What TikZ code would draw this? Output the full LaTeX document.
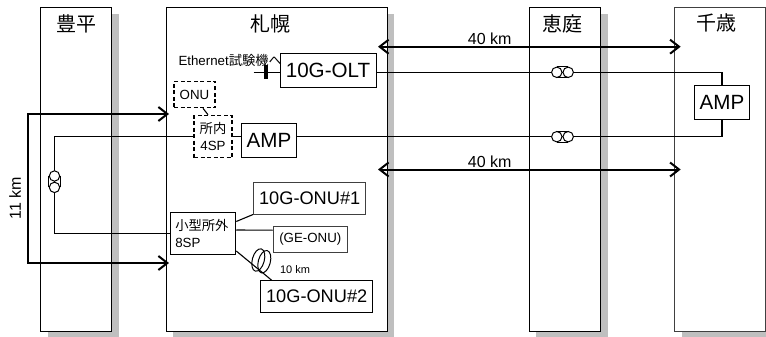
\documentclass[tikz,border=0pt]{standalone}
\usepackage{fontspec}
\setmainfont{Liberation Sans}
\newfontfamily\cjk{Noto Sans CJK JP}
\usetikzlibrary{arrows.meta}
\usetikzlibrary{positioning}
\usetikzlibrary{shadows}
\tikzset{>={Straight Barb[length=9pt,width=14pt]}}
\tikzset{
    site/.style={draw, fill=white, minimum height=323pt, inner sep=0pt,
        general shadow={fill=black!25, shadow xshift=7pt, shadow yshift=-6.5pt}},
    sitename/.style={inner sep=0pt, font=\fontsize{20}{24}\selectfont\cjk},
    bigbox/.style={draw, fill=white, inner sep=0pt, font=\fontsize{20.6}{24}\selectfont},
    onubox/.style={draw, fill=white, inner sep=0pt, minimum width=112.5pt, minimum height=31.5pt, font=\fontsize{18.2}{22}\selectfont},
    smallbox/.style={inner sep=0pt, font=\fontsize{13.3}{16.5}\selectfont},
    dashbox/.style={smallbox, draw, fill=white, dash pattern=on 4pt off 2.5pt, line width=1.6pt},
    fiber/.style={line width=1.1pt},
    bus/.style={line width=2pt},
    roll/.style={draw, circle, fill=white, inner sep=0pt, minimum size=10.4pt, line width=1pt},
    lengthlabel/.style={inner sep=0pt, font=\fontsize{16}{18}\selectfont},
}

\begin{document}
\begin{tikzpicture}[x=1pt, y=-1pt, line width=1pt]
        \useasboundingbox (0,0) rectangle (766,337);

        % sites
        \node [site, minimum width=71pt] (Toyohira) at (76,169.5) {};
        \node [site, minimum width=221pt] (Sapporo) at (276.5,169.5) {};
        \node [site, minimum width=71.5pt] (Eniwa) at (565,169.5) {};
        \node [site, minimum width=90.5pt, draw=black!75] (Chitose) at (720,169.5) {};
        \node [sitename, below=7pt of Toyohira.north] (ToyohiraName) {豊平};
        \node [sitename, below=7pt of Sapporo.north, xshift=-6.5pt] (SapporoName) {札幌};
        \node [sitename, below=7pt of Eniwa.north, xshift=-3pt] (EniwaName) {恵庭};
        \node [sitename, below=6pt of Chitose.north, xshift=-4pt] (ChitoseName) {千歳};

        % equipment
        \node [bigbox, minimum width=96pt, minimum height=34pt] (OLT) at (328,70.3) {10G-OLT};
        \node [bigbox, minimum width=55.5pt, minimum height=34pt] (LocalAMP) at (269,140) {AMP};
        \node [bigbox, minimum width=55pt, minimum height=34pt] (RemoteAMP) at (722,102.5) {AMP};
        \node [dashbox, minimum width=41pt, minimum height=26pt] (ONU) at (194.5,94.5) {ONU};
        \node [dashbox, minimum width=38pt, minimum height=42pt, align=center] (FourSP) at (213,136.5) {{\cjk 所内}\\4SP};
        \node [smallbox, draw, fill=white, inner xsep=5pt, minimum height=41.5pt, align=left, text width=55.5pt] (SmallSP) at (203,233.5) {{\cjk 小型所外}\\8SP};
        \node [onubox, draw=black!75] (OneONU) at (309.7,198.3) {10G-ONU\#1};
        \node [onubox] (TwoONU) at (316.7,296.5) {10G-ONU\#2};
        \node [smallbox, draw=black!75, fill=white, minimum width=74.5pt, minimum height=25.7pt] (GEONU) at (310.3,239.2) {(GE-ONU)};
        \node [smallbox, anchor=west] (Tester) at (178,60.7) {Ethernet{\cjk 試験機へ}};
        \coordinate [left=26pt of OLT, yshift=-2pt] (StubEnd);
        \coordinate (LeftTop) at (54.5,136.5);
        \coordinate (LeftBottom) at (54.5,233.5);

        % fibers
        \draw [fiber] (StubEnd)--([yshift=-2pt]OLT.west);
        \node [fill=black, inner sep=0pt, minimum width=4pt, minimum height=14pt, left=11pt of OLT, yshift=-2pt] (TesterBar) {};
        \draw [fiber] ([yshift=-2pt]OLT.east) -| (RemoteAMP.north);
        \draw [fiber] ([yshift=3.5pt]LocalAMP.east) -| (RemoteAMP.south);
        \draw [fiber] (FourSP.east)--([yshift=3.5pt]LocalAMP.west);
        \draw [fiber] (FourSP.west)--(LeftTop)--(LeftBottom)--(SmallSP.west);
        \draw [fiber] ([xshift=8.5pt]ONU.south)--([xshift=-5pt]FourSP.north);
        \draw [fiber] ([yshift=12pt]SmallSP.east)--(OneONU.south west);
        \draw [fiber] ([yshift=3.5pt]SmallSP.east)--([yshift=9pt]GEONU.west);
        \draw [fiber] ([yshift=-17.5pt]SmallSP.east)--([xshift=-45pt]TwoONU.north);

        % fiber rolls
        \node [roll] (UpperRollA) at (556.8,72.3) {};
        \node [roll, right=0pt of UpperRollA] (UpperRollB) {};
        \draw (UpperRollA.north)--(UpperRollB.north) (UpperRollA.south)--(UpperRollB.south);
        \node [roll] (LowerRollA) at (556.8,136.7) {};
        \node [roll, right=0pt of LowerRollA] (LowerRollB) {};
        \draw (LowerRollA.north)--(LowerRollB.north) (LowerRollA.south)--(LowerRollB.south);
        \node [roll] (LeftRollA) at (54.5,176) {};
        \node [roll, below=0pt of LeftRollA] (LeftRollB) {};
        \draw (LeftRollA.west)--(LeftRollB.west) (LeftRollA.east)--(LeftRollB.east);
        \draw [rotate around={-15:(258.3,260)}] (258.3,260) ellipse (6pt and 11.5pt);
        \draw [rotate around={-15:(264.3,261.7)}] (264.3,261.7) ellipse (6pt and 11.5pt);

        % distances
        \coordinate (SapporoUpper) at (378,46.7);
        \coordinate (ChitoseUpper) at (680.7,46.7);
        \coordinate (SapporoLower) at (378,169.5);
        \coordinate (ChitoseLower) at (680.7,169.5);
        \draw [<->, bus] (SapporoUpper)--(ChitoseUpper);
        \draw [<->, bus] (SapporoLower)--(ChitoseLower);
        \node [lengthlabel] (UpperLength) at (489.7,39) {40 km};
        \node [lengthlabel] (LowerLength) at (489.7,162) {40 km};

        \coordinate (OuterTip) at (169,114);
        \coordinate (OuterTop) at (27.5,114);
        \coordinate (OuterBottom) at (27.5,263);
        \coordinate (InnerTip) at (169,263);
        \draw [<->, bus] (OuterTip)--(OuterTop)--(OuterBottom)--(InnerTip);
        \node [lengthlabel, rotate=90] (LocalLength) at (15,198) {11 km};
        \node [inner sep=0pt, font=\fontsize{11}{13}\selectfont] (CoilLength) at (295,270) {10 km};
    \end{tikzpicture}
\end{document}
